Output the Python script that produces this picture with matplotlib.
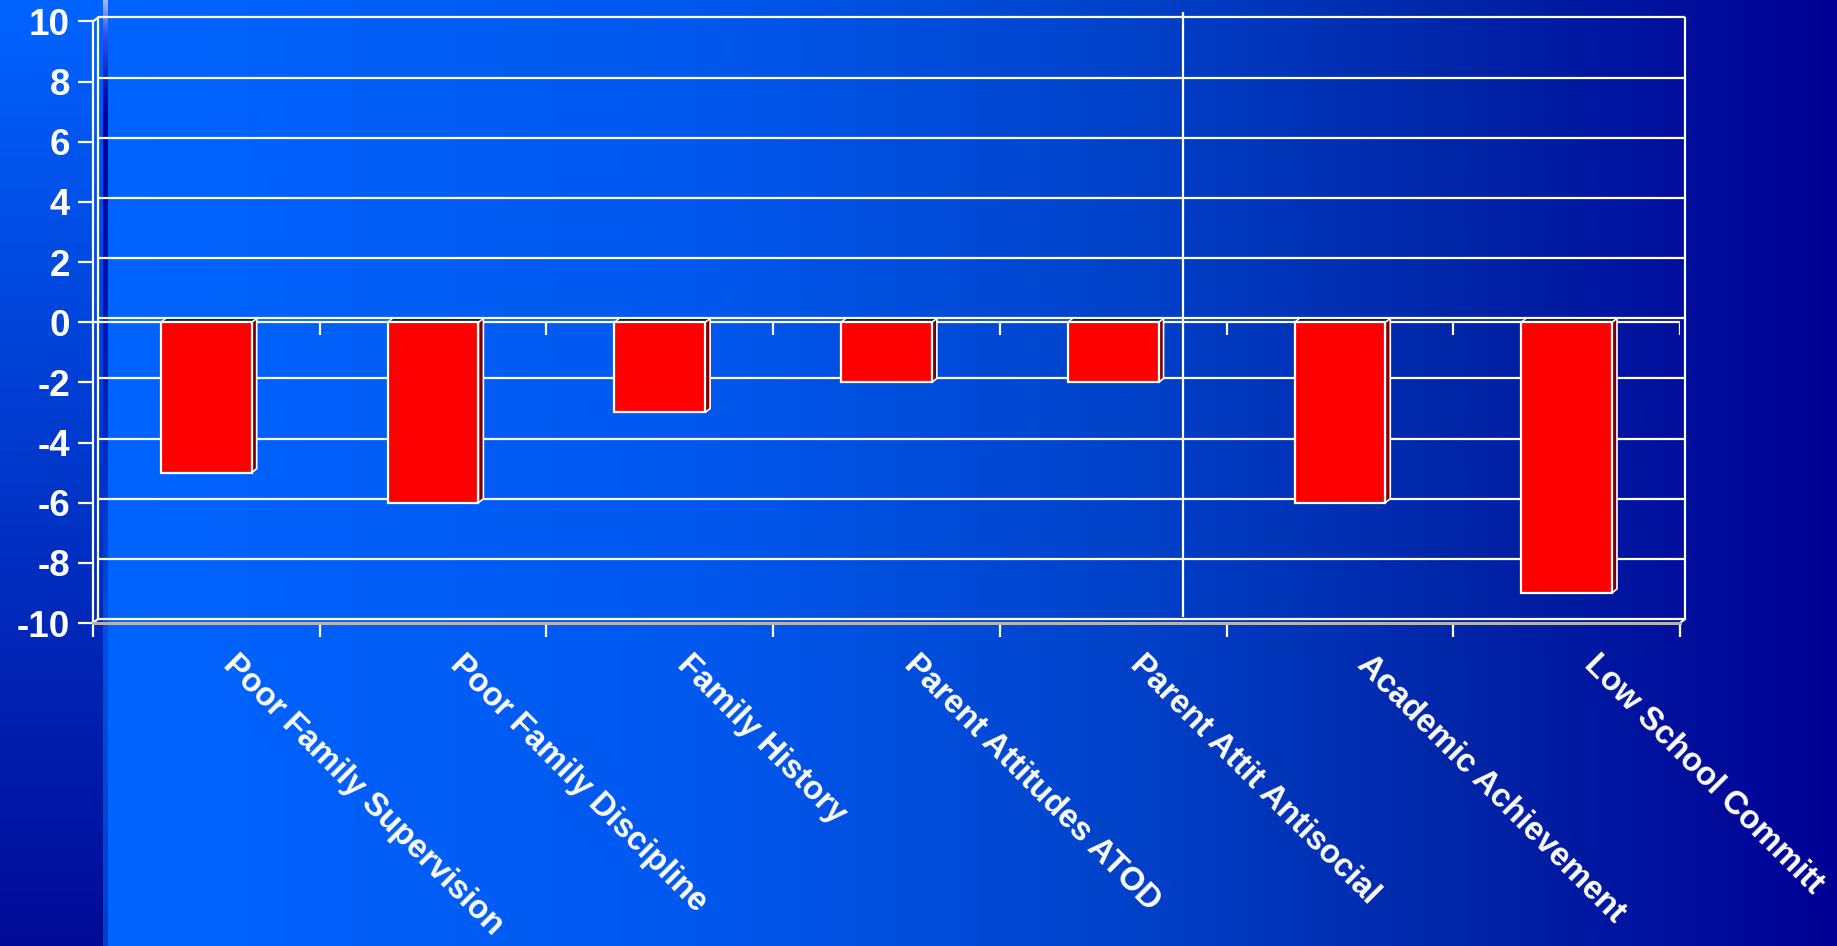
import numpy as np
import matplotlib
matplotlib.use('Agg')
import matplotlib.pyplot as plt
from matplotlib.patches import Polygon
from matplotlib import transforms
from matplotlib.colors import to_rgb

# risk factor scores
categories = ['Poor Family Supervision', 'Poor Family Discipline', 'Family History',
              'Parent Attitudes ATOD', 'Parent Attit Antisocial', 'Academic Achievement',
              'Low School Committ']
values = [-5, -6, -3, -2, -2, -6, -9]
y_ticks = list(range(-10, 11, 2))
divider_x = 4.31   # family / school split

plt.rcParams['font.family'] = ['Liberation Sans', 'DejaVu Sans']

W, H = 1837, 946
DEPTH_X, DEPTH_Y = 5, 4   # 3d depth in pixels


def ramp(stops, colors, n):
    cols = np.array([to_rgb(c) for c in colors])
    p = np.arange(n)
    return np.stack([np.interp(p, stops, cols[:, k]) for k in range(3)], axis=1)


# slide background
bg = np.zeros((H, W, 3))
main = ramp([108, 700, 1100, 1450, W - 1],
            ['#0064FF', '#0058EE', '#0044CC', '#0026A8', '#000095'], W)
bg[:, :, :] = main[None, :, :]
left = ramp([0, H - 1], ['#0064FF', '#000A96'], H)
bg[:, :103, :] = left[:, None, :]
strip = ramp([0, 35, 110, 360, 620, H - 1],
             ['#B0B8F0', '#3050F0', '#000098', '#0018B8', '#0050E0', '#0040C8'], H)
bg[:, 103:108, :] = strip[:, None, :]

fig = plt.figure(figsize=(W / 100, H / 100), dpi=100)
ax_bg = fig.add_axes([0, 0, 1, 1])
ax_bg.imshow(bg, aspect='auto', extent=[0, W, H, 0], interpolation='bilinear')
ax_bg.axis('off')

ax = fig.add_axes([93 / W, 323 / H, 1587 / W, 601.5 / H])
ax.patch.set_alpha(0)
n = len(categories)
x = np.arange(n)
ax.set_xlim(-0.5, n - 0.5)
ax.set_ylim(-10, 10)

back = transforms.offset_copy(ax.transData, fig=fig, x=DEPTH_X, y=DEPTH_Y, units='dots')

# back wall grid
ax.hlines(y_ticks, -0.5, n - 0.5, colors='white', lw=1.6, transform=back,
          zorder=1, clip_on=False)
ax.vlines([-0.5, n - 0.5], -10, 10, colors='white', lw=1.6, transform=back,
          zorder=1, clip_on=False)
ax.axhline(0, color='white', lw=1.6, zorder=1)

# wall corners
for xc, yc in [(-0.5, 10), (-0.5, -10), (n - 0.5, -10)]:
    p0 = ax.transData.transform((xc, yc))
    p1 = back.transform((xc, yc))
    ax.plot([p0[0], p1[0]], [p0[1], p1[1]], color='white', lw=1.6,
            transform=None, zorder=1, clip_on=False)

# divider
ax.vlines(divider_x, -9.8, 10.32, colors='white', lw=1.6, zorder=2, clip_on=False)

# bars with side and top faces
bw = 0.4
ppu_x = ax.get_window_extent().width / n
ppu_y = ax.get_window_extent().height / 20
dx, dy = DEPTH_X / ppu_x, DEPTH_Y / ppu_y
for xi, v in zip(x, values):
    xl, xr = xi - bw / 2, xi + bw / 2
    side = Polygon([(xr, 0), (xr + dx, dy), (xr + dx, v + dy), (xr, v)],
                   closed=True, facecolor='#800000', edgecolor='white', lw=1.2, zorder=3)
    top = Polygon([(xl, 0), (xl + dx, dy), (xr + dx, dy), (xr, 0)],
                  closed=True, facecolor='#202020', edgecolor='white', lw=1.0, zorder=3)
    ax.add_patch(side)
    ax.add_patch(top)
ax.bar(x, values, width=bw, color='#FF0000', edgecolor='white', lw=1.6, zorder=4)

# category ticks on the zero line
bounds = np.arange(n + 1) - 0.5
ax.vlines(bounds[1:], -13 / ppu_y, 0, colors='white', lw=1.6, zorder=2)

for s in ['top', 'right']:
    ax.spines[s].set_visible(False)
ax.spines['left'].set_color('white')
ax.spines['left'].set_linewidth(1.6)
ax.spines['bottom'].set_color('#B4B4B4')
ax.spines['bottom'].set_linewidth(2.2)

ax.set_yticks(y_ticks)
ax.set_yticklabels([str(t) for t in y_ticks], fontsize=26.5, fontweight='bold', color='white')
ax.tick_params(axis='y', length=10.8, width=1.6, color='white', pad=5.8)
ax.set_xticks(bounds)
ax.set_xticklabels([])
ax.tick_params(axis='x', length=10, width=1.6, color='white')

lab_tr = transforms.offset_copy(
    transforms.blended_transform_factory(ax.transData, ax.transAxes),
    fig=fig, x=33, y=-26, units='dots')
for xi, name in zip(x, categories):
    ax.text(xi, 0, name, transform=lab_tr, rotation=-45, rotation_mode='anchor',
            ha='left', va='top', fontsize=23.5, fontweight='bold', color='white',
            clip_on=False)

fig.savefig('out.png', dpi=100)
